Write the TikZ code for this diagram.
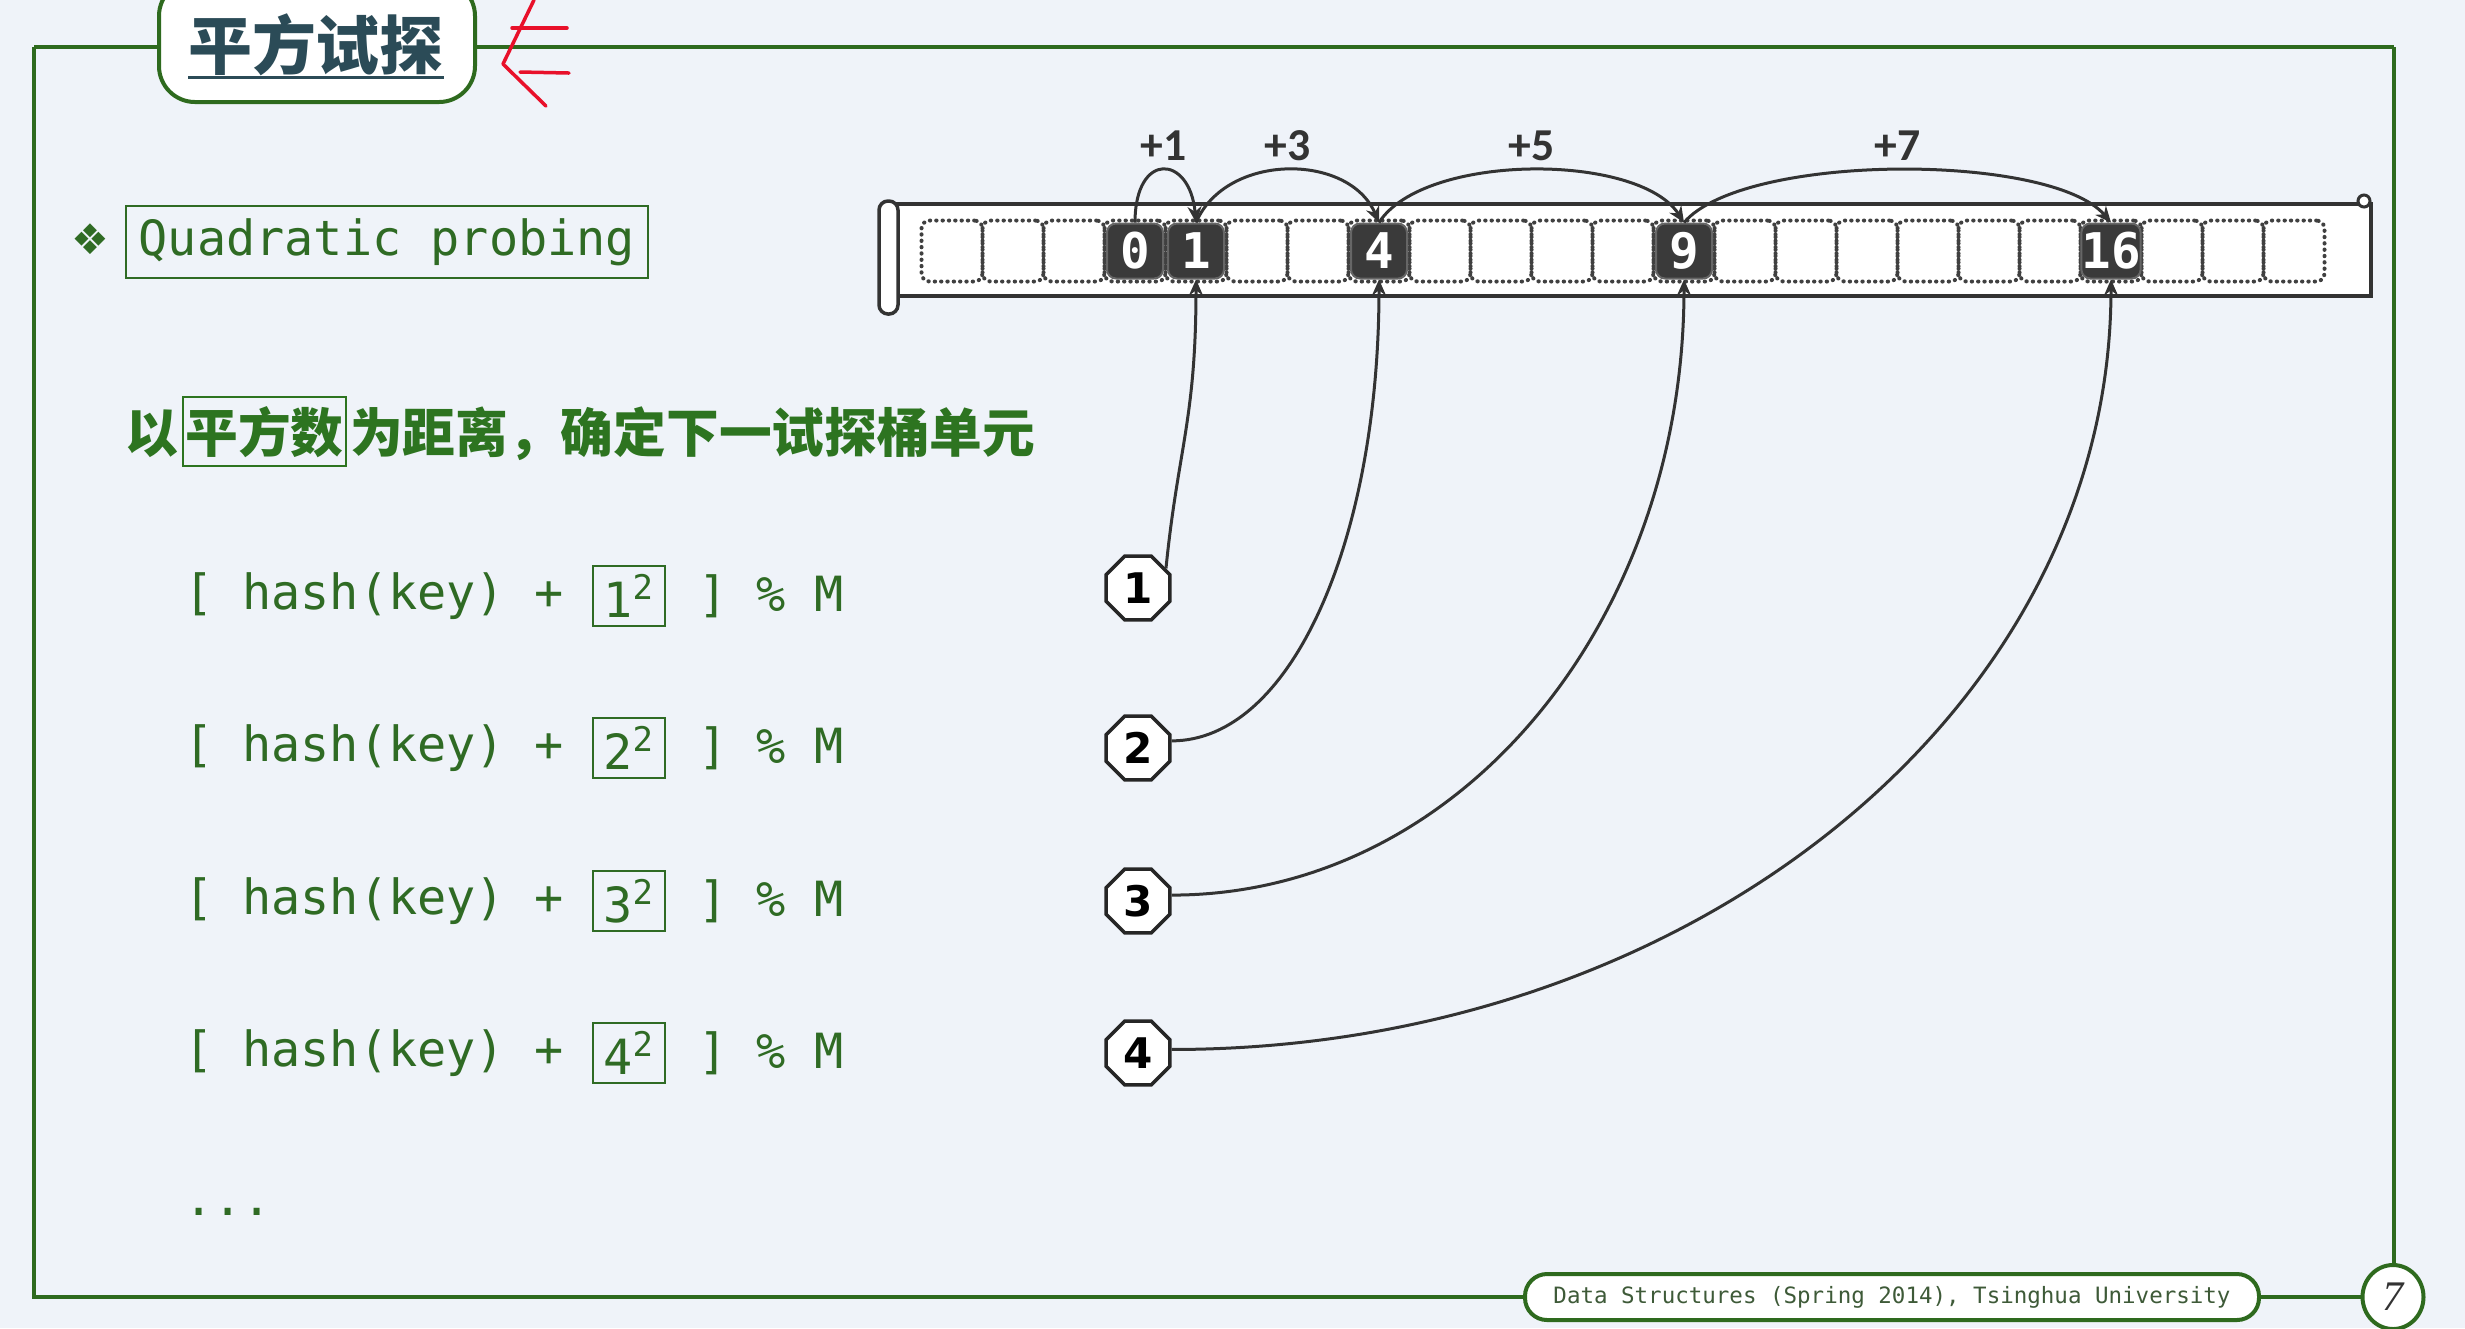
\documentclass[tikz,border=0pt]{standalone}
\usepackage{fontspec}
\setmainfont{DejaVu Sans}
\newfontfamily\cjk{Noto Sans CJK SC}
\newfontfamily\mono{DejaVu Sans Mono}
\newfontfamily\lab{Carlito}
\newfontfamily\dvs{DejaVu Sans}
\newfontfamily\lserif{Liberation Serif}
\usetikzlibrary{shapes.geometric,arrows.meta}
\definecolor{bg}{HTML}{EFF3F9}
\definecolor{fgreen}{HTML}{2E6A1E}
\definecolor{tgreen}{HTML}{2F6B24}
\definecolor{zgreen}{HTML}{2D7420}
\definecolor{ttlcol}{HTML}{2B4B57}
\definecolor{darkcell}{HTML}{3A3A3A}
\definecolor{inkred}{HTML}{E8102A}
\definecolor{footcol}{HTML}{3E5A38}
\tikzset{
  frameline/.style={draw=fgreen, line width=0.4mm},
  txt/.style={inner sep=0pt, outer sep=0pt},
  cellbox/.style={draw=black!75, dash pattern=on 0.1pt off 1.7pt, line cap=round, line width=0.4mm,
    rounded corners=0.8mm, minimum width=6.1mm, minimum height=6.1mm, inner sep=0pt},
  darkbox/.style={fill=darkcell, draw=black!60, line width=0.2mm, rounded corners=0.9mm,
    minimum width=5.6mm, minimum height=5.5mm, inner sep=0pt, text=white,
    font=\mono\bfseries\fontsize{14}{14}\selectfont},
  arc/.style={draw=black!80, line width=0.3mm, -{Stealth[length=1.6mm,width=1.4mm]}},
  lbl/.style={inner sep=0.8mm, text=black!80, font=\lab\bfseries\fontsize{13}{13}\selectfont},
  octo/.style={regular polygon, regular polygon sides=8, draw=black!85, fill=white,
    line width=0.35mm, minimum size=6.9mm, inner sep=0pt,
    font=\dvs\bfseries\fontsize{12}{12}\selectfont},
  formula/.style={txt, text=tgreen, font=\mono\fontsize{13.8}{14}\selectfont},
  sqbox/.style={draw=tgreen, line width=0.22mm, minimum width=7.2mm, minimum height=6mm,
    inner sep=0pt, text=tgreen, font=\mono\fontsize{13.8}{14}\selectfont},
}
\begin{document}
\begin{tikzpicture}[x=0.1mm, y=-0.1mm]
\clip (0,0) rectangle (2465,1328);
\fill[bg] (0,0) rectangle (2465,1328);

% frame
\draw[frameline] (34,47) -- (2394,47);
\draw[frameline] (34,47) -- (34,1297) -- (2394,1297);
\draw[frameline] (2394,47) -- (2394,1297);

% title
\draw[fill=white, draw=fgreen, line width=0.4mm, rounded corners=3.6mm] (159,-20) rectangle (475,102);
\node[txt, text=ttlcol, font=\cjk\bfseries\fontsize{18.2}{20}\selectfont] (ttl) at (316,45) {平方试探};
\draw[ttlcol, line width=0.3mm] ([yshift=-3.2mm]ttl.west) -- ([yshift=-3.2mm]ttl.east);

% red annotation
\draw[inkred, line width=0.35mm, line cap=round, line join=round] (534,0) -- (503,64) -- (546,106);
\draw[inkred, line width=0.35mm, line cap=round] (512,28) -- (567,28);
\draw[inkred, line width=0.35mm, line cap=round] (520,72) -- (569,73);

% Quadratic probing
\node[txt, text=tgreen, font=\dvs\fontsize{12}{12}\selectfont] (bul) at (90,239) {❖};
\node[draw=tgreen, line width=0.22mm, minimum width=52.2mm, minimum height=7.2mm, inner sep=0pt,
  text=tgreen, font=\mono\fontsize{13.8}{14}\selectfont] (qp) at (387,242) {Quadratic probing};

% Chinese line
\node[txt, anchor=base west, text=zgreen, font=\cjk\bfseries\fontsize{15}{16}\selectfont] (zh1) at (126,452) {以};
\node[anchor=base west, draw=zgreen, line width=0.22mm, inner xsep=0.25mm, inner ysep=0.9mm,
  text=zgreen, font=\cjk\bfseries\fontsize{15}{16}\selectfont] (zhb) at ([xshift=0.3mm]zh1.base east) {平方数};
\node[txt, anchor=base west, text=zgreen, font=\cjk\bfseries\fontsize{15}{16}\selectfont] (zh2) at ([xshift=0.3mm]zhb.base east) {为距离，确定下一试探桶单元};

% formulas
\foreach \k/\y in {1/596, 2/748, 3/901, 4/1053} {
  \node[formula, anchor=west] (fa\k) at (184,\y) {[ hash(key) +};
  \node[sqbox] (fb\k) at (629,\y) {\k\textsuperscript{2}};
  \node[formula, anchor=west] (fc\k) at (698,\y) {] \% M};
}
\node[formula, anchor=west] (dots) at (184,1212) {...};

% array bar
\fill[white] (888,204) rectangle (2371,296);
\draw[black!80, line width=0.35mm] (888,204) -- (2371,204) -- (2371,296) -- (888,296);
\draw[black!80, line width=0.3mm, fill=white] (2364,201) circle (6);
\draw[black!80, line width=0.35mm, fill=white, rounded corners=0.9mm] (879,201) rectangle (898,314);

% cells
\foreach \i in {0,...,22} {
  \node[cellbox] (cell\i) at ({1135+61*(\i-3)},251) {};
}
\node[darkbox] (n0) at (cell3) {0};
\node[darkbox] (n1) at (cell4) {1};
\node[darkbox] (n4) at (cell7) {4};
\node[darkbox] (n9) at (cell12) {9};
\node[darkbox] (n16) at (cell19) {16};

% arcs above
\draw[arc] (n0.north) .. controls +(0,-72) and +(-6,-68) .. (n1.north) node[lbl, pos=.5, anchor=south] {+1};
\draw[arc] (n1.north) .. controls +(30,-70) and +(-30,-70) .. (n4.north) node[lbl, pos=.5, anchor=south] {+3};
\draw[arc] (n4.north) .. controls +(45,-70) and +(-45,-70) .. (n9.north) node[lbl, pos=.5, anchor=south] {+5};
\draw[arc] (n9.north) .. controls +(60,-70) and +(-60,-70) .. (n16.north) node[lbl, pos=.5, anchor=south] {+7};

% circles
\node[octo] (c1) at (1138,588) {1};
\node[octo] (c2) at (1138,748) {2};
\node[octo] (c3) at (1138,901) {3};
\node[octo] (c4) at (1138,1053) {4};

% curves down
\draw[arc] (c1.35) .. controls +(12,-120) and +(0,140) .. (n1.south);
\draw[arc] (c2.12) .. controls +(120,0) and +(0,260) .. (n4.south);
\draw[arc] (c3.10) .. controls +(290,0) and +(0,340) .. (n9.south);
\draw[arc] (c4.6) .. controls +(520,0) and +(0,430) .. (n16.south);

% footer
\node[draw=fgreen, fill=white, line width=0.4mm, rounded corners=2.2mm, minimum width=73.4mm,
  minimum height=4.6mm, inner sep=0pt, text=footcol, font=\mono\fontsize{6.4}{7}\selectfont] (ft) at (1892,1297)
  {Data Structures (Spring 2014), Tsinghua University};
\node[ellipse, draw=fgreen, fill=white, line width=0.4mm, minimum width=6.1mm, minimum height=6.4mm,
  inner sep=0pt, text=black!80, font=\lserif\itshape\fontsize{12}{12}\selectfont] (pg) at (2393,1297) {7};
\end{tikzpicture}
\end{document}
